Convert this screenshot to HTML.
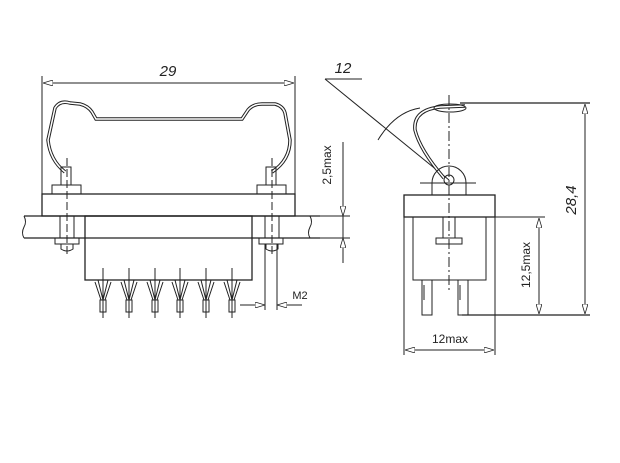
<!DOCTYPE html>
<html><head><style>body{margin:0;background:#fff}svg{display:block}</style></head><body>
<svg width="620" height="463" viewBox="0 0 620 463" xmlns="http://www.w3.org/2000/svg" font-family="Liberation Sans, sans-serif">
<defs>
<marker id="a" viewBox="0 0 10 6" refX="10" refY="3" markerWidth="10" markerHeight="6" orient="auto-start-reverse" markerUnits="userSpaceOnUse"><path d="M0,0 L10,3 L0,6 z" fill="#fff" stroke="#222" stroke-width="0.8"/></marker>
</defs>
<g stroke="#222" fill="none" stroke-width="1">
<!-- left view -->
<line x1="42" y1="76" x2="42" y2="216"/><line x1="295" y1="76" x2="295" y2="216"/>
<line x1="43" y1="83" x2="294" y2="83" marker-start="url(#a)" marker-end="url(#a)"/>
<rect x="42" y="194" width="253" height="22" stroke-width="1.3"/>
<path d="M24,216 H320 M24,238 H320" stroke-width="1.3"/>
<path d="M24,216 q3,6 0,11 q-3,6 0,11" /><path d="M310,216 q3,6 0,11 q-3,6 0,11"/>
<rect x="85" y="216" width="167" height="64" stroke-width="1.3"/>
<path d="M65,172 Q50,160 48,140 L55,108 Q60,100 70,103 L80,104 Q88,106 92,112 L96,119 H242 L248,110 Q253,104 262,104 L275,104 Q283,106 285,113 L290,140 Q290,160 272,172" stroke-width="3.5"/>
<path d="M65,172 Q50,160 48,140 L55,108 Q60,100 70,103 L80,104 Q88,106 92,112 L96,119 H242 L248,110 Q253,104 262,104 L275,104 Q283,106 285,113 L290,140 Q290,160 272,172" stroke="#fff" stroke-width="1.5"/>
<rect x="52" y="185" width="29" height="9"/><rect x="257" y="185" width="29" height="9"/>
<rect x="61" y="167" width="10" height="18"/><rect x="266" y="167" width="10" height="18"/>
<rect x="55" y="238" width="24" height="6"/><rect x="259" y="238" width="24" height="6"/>
<rect x="60" y="216" width="14" height="22"/><rect x="265" y="216" width="14" height="22"/>
<path d="M61,244 v5 q6,4 12,0 v-5 M266,244 v5 q6,4 12,0 v-5"/>
<line x1="67" y1="158" x2="67" y2="255" stroke-dasharray="8,3"/><line x1="272" y1="158" x2="272" y2="255" stroke-dasharray="8,3"/>
<path d="M86,280 L250,280"/>
<g id="p"><path d="M98,280 L103,300 L108,280 M95,282 L101,300 M111,282 L105,300"/><line x1="103" y1="268" x2="103" y2="318"/><rect x="100" y="300" width="6" height="12"/></g>
<use href="#p" x="26"/><use href="#p" x="52"/><use href="#p" x="77"/><use href="#p" x="103"/><use href="#p" x="129"/>
<line x1="265" y1="244" x2="265" y2="310"/><line x1="277" y1="244" x2="277" y2="310"/>
<line x1="240" y1="305" x2="265" y2="305" marker-end="url(#a)"/><line x1="302" y1="305" x2="277" y2="305" marker-end="url(#a)"/>
<!-- 2,5max -->
<line x1="343" y1="142" x2="343" y2="263"/>
<line x1="343" y1="200" x2="343" y2="216" marker-end="url(#a)"/><line x1="343" y1="254" x2="343" y2="238" marker-end="url(#a)"/>
<line x1="320" y1="216" x2="350" y2="216"/><line x1="320" y1="238" x2="350" y2="238"/>
<!-- right view -->
<line x1="325" y1="79" x2="362" y2="79"/>
<line x1="325" y1="79" x2="449" y2="180"/>
<path d="M378,140 Q395,112 420,108"/>
<path d="M444,178 Q420,150 415,130 Q413,110 440,107 L465,106" stroke-width="3.5"/>
<path d="M444,178 Q420,150 415,130 Q413,110 440,107 L465,106" stroke="#fff" stroke-width="1.5"/>
<ellipse cx="450" cy="108" rx="16" ry="4"/>
<path d="M432,195 v-12 a17,17 0 0 1 34,0 v12"/>
<circle cx="449" cy="180" r="5"/>
<line x1="420" y1="183" x2="476" y2="183"/>
<rect x="404" y="195" width="91" height="22" stroke-width="1.3"/>
<path d="M413,217 V280 H486 V217"/>
<line x1="449" y1="95" x2="449" y2="290" stroke-dasharray="10,3,2,3"/>
<rect x="436" y="238" width="26" height="6"/><rect x="443" y="217" width="12" height="21"/>
<path d="M422,280 V315 H432 V280 M458,280 V315 H468 V280 M424,285 V300 M460,285 V300"/>
<line x1="404" y1="217" x2="404" y2="355"/><line x1="495" y1="217" x2="495" y2="355"/>
<line x1="405" y1="350" x2="494" y2="350" marker-start="url(#a)" marker-end="url(#a)"/>
<line x1="486" y1="217" x2="545" y2="217"/><line x1="462" y1="315" x2="590" y2="315" stroke-width="1.3"/>
<line x1="539" y1="218" x2="539" y2="314" marker-start="url(#a)" marker-end="url(#a)"/>
<line x1="460" y1="103" x2="590" y2="103" stroke-width="1.3"/>
<line x1="585" y1="104" x2="585" y2="314" marker-start="url(#a)" marker-end="url(#a)"/>
</g>
<g fill="#222" stroke="none">
<text x="168" y="76" font-size="15" font-style="italic" text-anchor="middle">29</text>
<text x="343" y="73" font-size="15" font-style="italic" text-anchor="middle">12</text>
<text x="300" y="299" font-size="11" text-anchor="middle">M2</text>
<text x="450" y="343" font-size="12" text-anchor="middle">12max</text>
<text transform="translate(331,165) rotate(-90)" font-size="12" text-anchor="middle">2,5max</text>
<text transform="translate(530,265) rotate(-90)" font-size="12" text-anchor="middle">12,5max</text>
<text transform="translate(576,200) rotate(-90)" font-size="15" font-style="italic" text-anchor="middle">28,4</text>
</g>
</svg>
</body></html>
